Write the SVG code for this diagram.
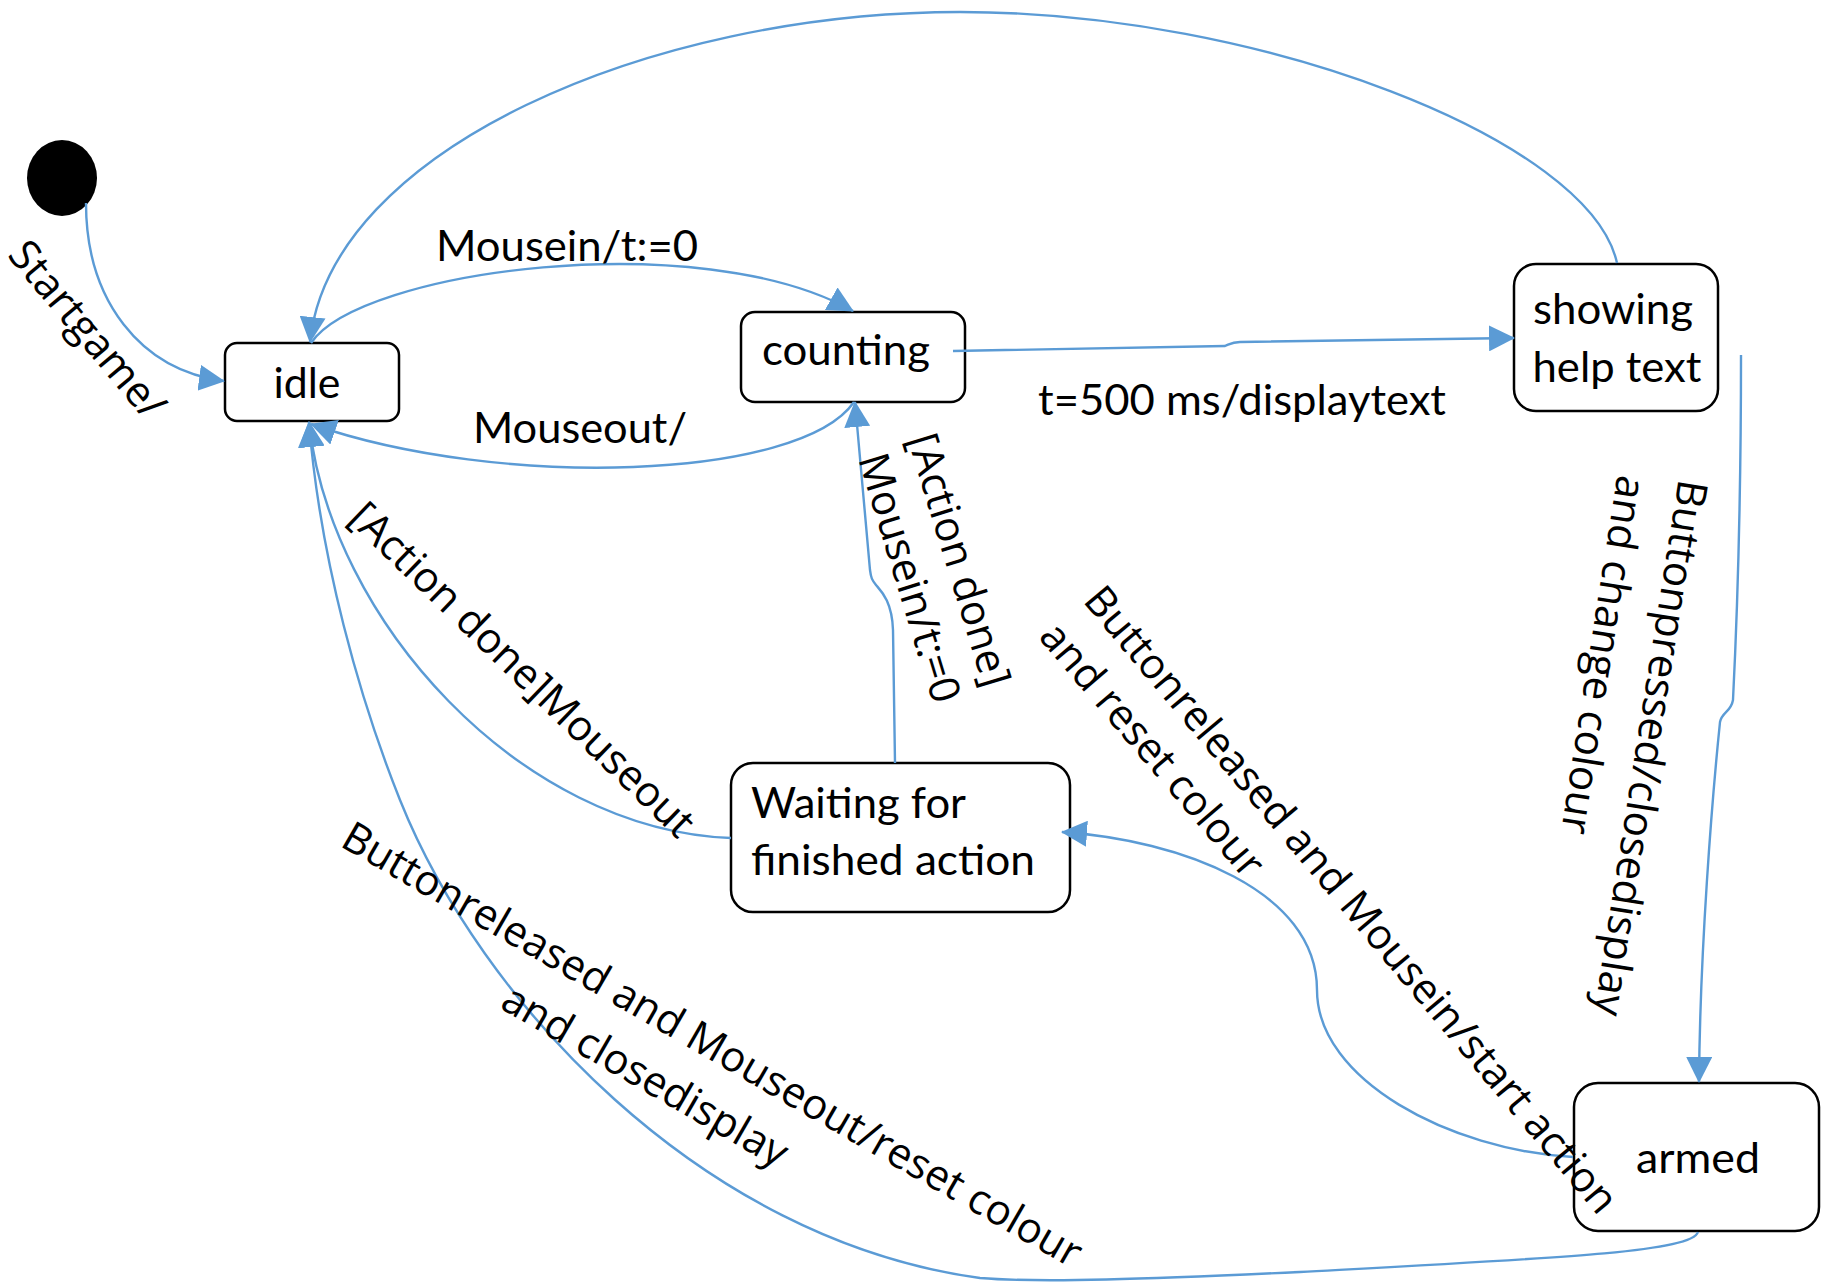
<svg xmlns="http://www.w3.org/2000/svg" width="1821" height="1282" viewBox="0 0 1821 1282">
<style>
.box{fill:#fff;stroke:#000;stroke-width:2.5}
.n{font-family:Lato,"Liberation Sans",sans-serif;font-size:42px;fill:#000}
.c{fill:none;stroke:#5b9bd5;stroke-width:2.4}
.l{font-family:"Open Sans","DejaVu Sans",sans-serif;font-size:42px;fill:#000}
</style>
<defs>
<marker id="ah" viewBox="0 0 26 26" markerWidth="26" markerHeight="26" refX="25" refY="13" orient="auto" markerUnits="userSpaceOnUse">
<path d="M0,0 L26,13 L0,26 z" fill="#5b9bd5"/>
</marker>
</defs>
<rect width="1821" height="1282" fill="#fff"/>
<g id="start"><ellipse cx="62" cy="178" rx="35" ry="38" fill="#000"/></g>
<g id="idle"><rect class="box" x="225" y="343" width="174" height="78" rx="12"/><text class="n" x="307" y="398" text-anchor="middle" textLength="67" lengthAdjust="spacingAndGlyphs">idle</text></g>
<g id="counting"><rect class="box" x="741" y="312" width="224" height="90" rx="14"/><text class="n" x="846" y="365" text-anchor="middle" textLength="168" lengthAdjust="spacingAndGlyphs">counting</text></g>
<g id="showing"><rect class="box" x="1514" y="264" width="204" height="147" rx="22"/><text class="n" x="1613" y="324" text-anchor="middle" textLength="160" lengthAdjust="spacingAndGlyphs">showing</text><text class="n" x="1617" y="382" text-anchor="middle" textLength="169" lengthAdjust="spacingAndGlyphs">help text</text></g>
<g id="waiting"><rect class="box" x="731" y="763" width="339" height="149" rx="22"/><text class="n" x="751" y="818" textLength="215" lengthAdjust="spacingAndGlyphs">Waiting for</text><text class="n" x="751" y="875" textLength="284" lengthAdjust="spacingAndGlyphs">finished action</text></g>
<g id="armed"><rect class="box" x="1574" y="1083" width="245" height="148" rx="24"/><text class="n" x="1698" y="1173" text-anchor="middle" textLength="124" lengthAdjust="spacingAndGlyphs">armed</text></g>
<g id="connectors">
<path class="c" marker-end="url(#ah)" d="M86,203 C86,300 140,370 224,381"/>
<path class="c" marker-end="url(#ah)" d="M311,343 C360,270 700,225 853,311"/>
<path class="c" marker-end="url(#ah)" d="M854,402 C800,480 500,490 311,424"/>
<path class="c" marker-end="url(#ah)" d="M953,351 L1225,346 C1230,344 1232,342 1240,342 L1514,338"/>
<path class="c" marker-end="url(#ah)" d="M1617,263 C1590,140 1260,12 960,12 C650,12 330,150 310,342"/>
<path class="c" marker-end="url(#ah)" d="M1741,355 C1741,500 1738,600 1733,700 C1731,712 1722,712 1720,722 C1712,800 1700,950 1699,1082"/>
<path class="c" marker-end="url(#ah)" d="M895,763 L893,630 C892,600 880,590 876,585 C872,580 871,578 870,570 L855,402"/>
<path class="c" marker-end="url(#ah)" d="M731,838 C520,830 330,620 309,422"/>
<path class="c" marker-end="url(#ah)" d="M1573,1157 C1450,1150 1317,1080 1317,990 C1317,890 1180,840 1062,832"/>
<path class="c" marker-end="url(#ah)" d="M1698,1232 C1692,1252 1560,1258 1300,1272 C1150,1279 1040,1283 980,1278 C700,1240 480,1000 400,800 C360,700 320,560 309,422"/>
</g>
<g id="labels">
<text class="n" x="567" y="261" text-anchor="middle" textLength="262" lengthAdjust="spacingAndGlyphs">Mousein/t:=0</text>
<text class="n" x="580" y="443" text-anchor="middle" textLength="214" lengthAdjust="spacingAndGlyphs">Mouseout/</text>
<text class="n" x="1242" y="415" text-anchor="middle" textLength="408" lengthAdjust="spacingAndGlyphs">t=500 ms/displaytext</text>
<text class="l" transform="translate(87,330) rotate(50)" text-anchor="middle" dy="0.33em">Startgame/</text>
<text class="l" transform="translate(522,670) rotate(44)" text-anchor="middle" dy="0.33em">[Action done]Mouseout</text>
<text class="l" transform="translate(959,560) rotate(73)" text-anchor="middle" dy="0.33em">[Action done]</text>
<text class="l" transform="translate(909,578) rotate(73)" text-anchor="middle" dy="0.33em">Mousein/t:=0</text>
<text class="l" transform="translate(1650,748) rotate(99)" text-anchor="middle" dy="0.33em">Buttonpressed/closedisplay</text>
<text class="l" transform="translate(1603,655) rotate(99)" text-anchor="middle" dy="0.33em">and change colour</text>
<text class="l" transform="translate(1351,900) rotate(50)" text-anchor="middle" dy="0.33em">Buttonreleased and Mousein/start action</text>
<text class="l" transform="translate(1152,750) rotate(49.5)" text-anchor="middle" dy="0.33em">and reset colour</text>
<text class="l" transform="translate(712,1045) rotate(30)" text-anchor="middle" dy="0.33em">Buttonreleased and Mouseout/reset colour</text>
<text class="l" transform="translate(645,1076) rotate(30)" text-anchor="middle" dy="0.33em">and closedisplay</text>
</g>
</svg>
